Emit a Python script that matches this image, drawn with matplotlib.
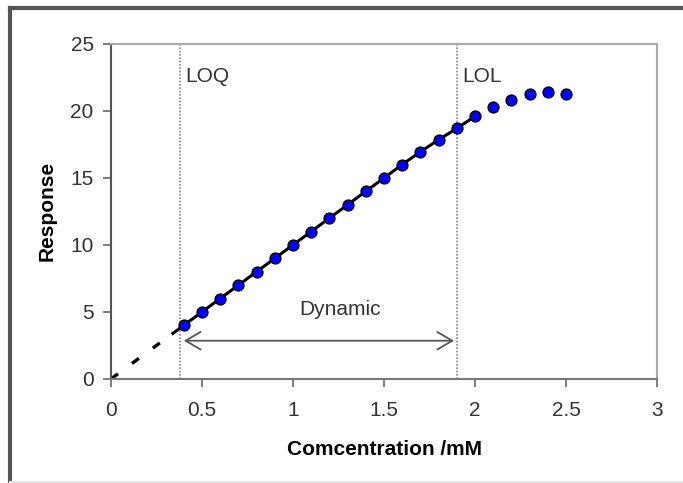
import matplotlib
matplotlib.use("Agg")
import matplotlib.pyplot as plt
from matplotlib.lines import Line2D

plt.rcParams['font.family'] = ['Liberation Sans', 'DejaVu Sans']

# ---- data ----
conc = [0.4, 0.5, 0.6, 0.7, 0.8, 0.9, 1.0, 1.1, 1.2, 1.3, 1.4, 1.5,
        1.6, 1.7, 1.8, 1.9, 2.0, 2.1, 2.2, 2.3, 2.4, 2.5]
resp = [4.0, 5.0, 6.0, 7.0, 8.0, 9.0, 10.0, 11.0, 12.0, 13.0, 14.0, 15.0,
        16.0, 16.95, 17.85, 18.7, 19.6, 20.3, 20.85, 21.3, 21.45, 21.25]
n_fit = 17                      # points 0.4 .. 2.0 joined by the solid line
extrap_x = [0.0, 0.34]          # dashed extrapolation to origin
extrap_y = [0.0, 3.4]
loq_x = 0.38
lol_x = 1.9
xticks = [0, 0.5, 1, 1.5, 2, 2.5, 3]
xtick_labels = ['0', '0.5', '1', '1.5', '2', '2.5', '3']
yticks = [0, 5, 10, 15, 20, 25]

FS = 15

fig = plt.figure(figsize=(6.83, 4.83), dpi=100)
ax = fig.add_axes([0.1625, 0.2155, 0.7995, 0.6935])

# dotted vertical limit lines
for xv in (loq_x, lol_x):
    ax.plot([xv, xv], [0, 25], color='#888888', lw=1.2, ls=(0, (1, 1)), zorder=1)

# dashed extrapolation
ax.plot(extrap_x, extrap_y, color='black', lw=2.4, ls=(0, (2.6, 5.2)),
        solid_capstyle='butt', dash_capstyle='butt', zorder=2)
# solid line through linear region
ax.plot([extrap_x[-1]] + conc[:n_fit], [extrap_y[-1]] + resp[:n_fit],
        color='black', lw=2.2, zorder=2)
# data points
ax.plot(conc, resp, ls='none', marker='o', ms=7.8, mfc='#0000ff',
        mec='black', mew=1.0, zorder=3)

# dynamic range arrow
ax.annotate('', xy=(0.40, 2.85), xytext=(1.885, 2.85),
            arrowprops=dict(arrowstyle='<->,head_length=0.6,head_width=0.35',
                            color='#555555', lw=1.3, mutation_scale=18,
                            shrinkA=0, shrinkB=0))
ax.text(1.26, 5.15, 'Dynamic', ha='center', va='center', fontsize=FS, color='#333333')
ax.text(0.41, 22.6, 'LOQ', ha='left', va='center', fontsize=FS, color='#333333')
ax.text(1.93, 22.6, 'LOL', ha='left', va='center', fontsize=FS, color='#333333')

ax.set_xlim(0, 3)
ax.set_ylim(0, 25)
ax.set_xticks(xticks)
ax.set_xticklabels(xtick_labels)
ax.set_yticks(yticks)
ax.tick_params(axis='both', direction='out', length=6, width=1.2,
               colors='#666666', labelcolor='#333333', labelsize=FS)
ax.tick_params(axis='x', pad=10)
ax.tick_params(axis='y', pad=6.5)

ax.spines['left'].set_color('#555555')
ax.spines['bottom'].set_color('#777777')
ax.spines['top'].set_color('#aaaaaa')
ax.spines['right'].set_color('#aaaaaa')
for s in ax.spines.values():
    s.set_linewidth(1.5)

ax.set_xlabel('Comcentration /mM', fontsize=FS, fontweight='bold', labelpad=14)
ax.set_ylabel('Response', fontsize=FS, fontweight='bold', labelpad=10)

# figure frame (top and left dark, bottom faint)
W, H = 683.0, 483.0
fig.add_artist(Line2D([10 / W, 1], [1 - 7.5 / H, 1 - 7.5 / H], color='#555555', lw=3,
                      transform=fig.transFigure))
fig.add_artist(Line2D([10 / W, 10 / W], [0, 1 - 7.5 / H], color='#555555', lw=3,
                      transform=fig.transFigure))
fig.add_artist(Line2D([10 / W, 1], [1.5 / H, 1.5 / H], color='#e6e6e6', lw=1.5,
                      transform=fig.transFigure))

fig.savefig('out.png', dpi=100)
